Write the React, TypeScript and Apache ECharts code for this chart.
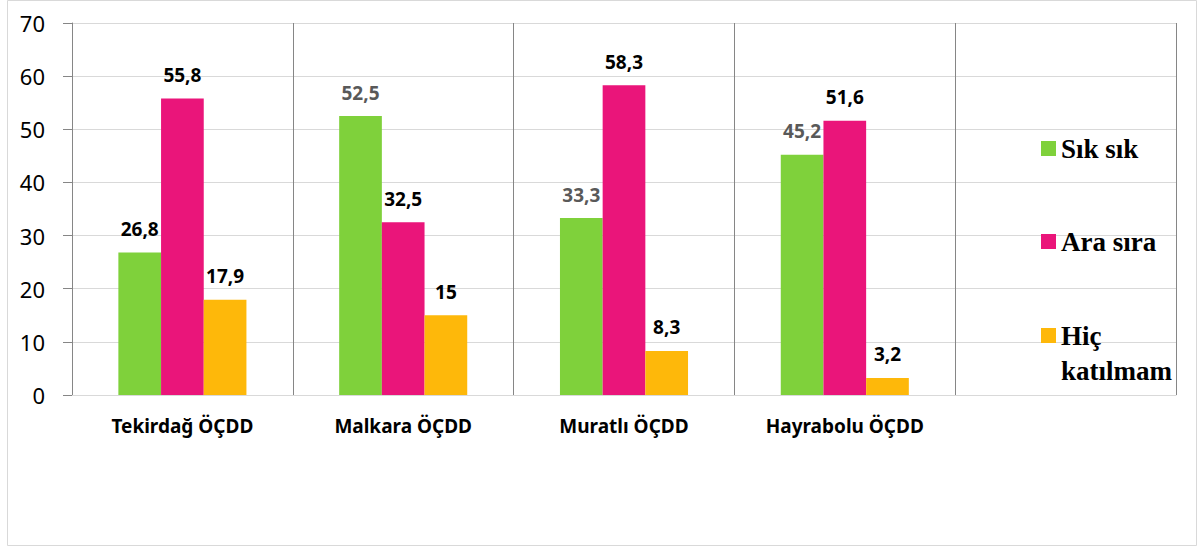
import React, { useEffect, useRef } from "react";
import * as echarts from "echarts";

const categories = ["Tekirdağ ÖÇDD", "Malkara ÖÇDD", "Muratlı ÖÇDD", "Hayrabolu ÖÇDD", ""];
const seriesNames = ["Sık sık", "Ara sıra", "Hiç katılmam"];
const sikSik = [26.8, 52.5, 33.3, 45.2];
const araSira = [55.8, 32.5, 58.3, 51.6];
const hicKatilmam = [17.9, 15, 8.3, 3.2];
const yTicks = { min: 0, max: 70, interval: 10 };

const colors = ["#7FD13B", "#EA157A", "#FEB80A"];
const sikSikLabelColors = ["#000000", "#595959", "#595959", "#595959"];

const fmt = (v: number) => String(v).replace(".", ",");

export default function App() {
  const ref = useRef<HTMLDivElement>(null);
  useEffect(() => {
    document.body.style.margin = "0";
    const chart = echarts.init(ref.current!, undefined, { renderer: "svg" });
    const labelBase = {
      show: true,
      position: "top" as const,
      distance: 14,
      fontFamily: "Noto Sans",
      fontWeight: "bold" as const,
      fontSize: 19,
      color: "#000",
      formatter: (p: any) => fmt(p.value),
    };
    const legendText = {
      fontFamily: "Liberation Serif",
      fontWeight: "bold" as const,
      fontSize: 27,
      color: "#000",
    };
    const mkLegend = (name: string, top: number, lineHeight: number) => ({
      data: [name],
      left: 1041,
      top,
      orient: "vertical" as const,
      padding: 0,
      itemWidth: 15,
      itemHeight: 15,
      icon: "rect",
      selectedMode: false,
      formatter: (n: string) => (n === "Hiç katılmam" ? "\nHiç\nkatılmam" : n),
      textStyle: { ...legendText, lineHeight },
    });
    chart.setOption({
      animation: false,
      graphic: [
        {
          type: "rect",
          shape: { x: 7.5, y: 0.5, width: 1189, height: 545 },
          style: { fill: "none", stroke: "#d9d9d9", lineWidth: 1 },
          silent: true,
        },
      ],
      grid: { left: 72, top: 23, right: 26, bottom: 153 },
      legend: [
        mkLegend(seriesNames[0], 135, 15),
        mkLegend(seriesNames[1], 228, 15),
        mkLegend(seriesNames[2], 283, 35),
      ],
      xAxis: {
        type: "category",
        data: categories,
        axisLine: { show: true, lineStyle: { color: "#d9d9d9" } },
        axisTick: { show: false },
        splitLine: { show: true, lineStyle: { color: "#868686", width: 1 } },
        axisLabel: {
          margin: 21,
          fontFamily: "Noto Sans",
          fontWeight: "bold",
          fontSize: 19,
          color: "#000",
        },
      },
      yAxis: {
        type: "value",
        min: yTicks.min,
        max: yTicks.max,
        interval: yTicks.interval,
        axisLine: { show: true, lineStyle: { color: "#868686" } },
        axisTick: { show: true, length: 9, lineStyle: { color: "#868686" } },
        splitLine: { show: true, lineStyle: { color: "#d9d9d9" } },
        axisLabel: {
          margin: 27,
          fontFamily: "Noto Sans",
          fontSize: 22,
          color: "#000",
        },
      },
      series: [
        {
          name: seriesNames[0],
          type: "bar",
          barGap: "0%",
          barCategoryGap: "42%",
          itemStyle: { color: colors[0] },
          label: labelBase,
          data: sikSik.map((v, i) => ({ value: v, label: { color: sikSikLabelColors[i] } })),
        },
        {
          name: seriesNames[1],
          type: "bar",
          barGap: "0%",
          barCategoryGap: "42%",
          itemStyle: { color: colors[1] },
          label: labelBase,
          data: araSira,
        },
        {
          name: seriesNames[2],
          type: "bar",
          barGap: "0%",
          barCategoryGap: "42%",
          itemStyle: { color: colors[2] },
          label: labelBase,
          data: hicKatilmam,
        },
      ],
    });
    return () => chart.dispose();
  }, []);
  return <div ref={ref} style={{ width: 1202, height: 548 }} />;
}
